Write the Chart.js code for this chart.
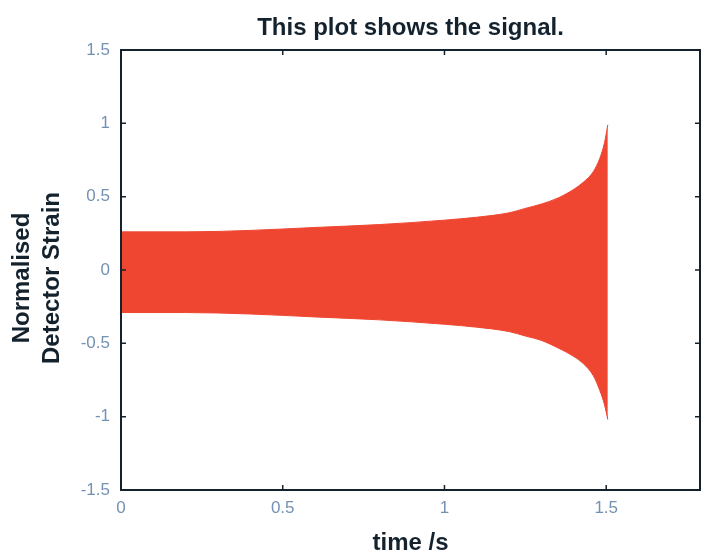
<!DOCTYPE html>
<html>
<head>
<meta charset="utf-8">
<script src="https://cdn.jsdelivr.net/npm/chart.js"></script>
<style>
  html, body { margin: 0; padding: 0; background: #fff; }
  #wrap { width: 701px; height: 554px; }
</style>
</head>
<body>
<div id="wrap"><canvas id="signalChart" width="701" height="554"></canvas></div>
<script>
// =============== data ===============
const timeS     = [0, 0.2, 0.4, 0.6, 0.8, 1.0, 1.1, 1.2, 1.25, 1.3, 1.35, 1.4, 1.43, 1.46, 1.48, 1.495, 1.505];
const upperEnv  = [0.26, 0.26, 0.27, 0.29, 0.31, 0.34, 0.36, 0.39, 0.42, 0.45, 0.49, 0.55, 0.60, 0.67, 0.76, 0.87, 0.99];
const lowerEnv  = [-0.29, -0.29, -0.30, -0.32, -0.34, -0.37, -0.39, -0.42, -0.45, -0.48, -0.53, -0.59, -0.64, -0.72, -0.82, -0.92, -1.02];
const xTicks    = [0, 0.5, 1, 1.5];
const yTicks    = [-1.5, -1, -0.5, 0, 0.5, 1, 1.5];

const RED = "#ef4631";
const LABEL = "#7391b2";
const INK = "#14222e";

// 边框 + 内向刻度 + 标题
const framePlugin = {
  id: "frame",
  afterDraw(chart) {
    const { ctx, chartArea: a, scales } = chart;
    ctx.save();
    ctx.strokeStyle = INK;
    ctx.lineWidth = 2;
    ctx.strokeRect(a.left, a.top, a.right - a.left, a.bottom - a.top);
    ctx.lineWidth = 1.5;
    ctx.beginPath();
    xTicks.forEach(v => {
      const x = scales.x.getPixelForValue(v);
      ctx.moveTo(x, a.bottom); ctx.lineTo(x, a.bottom - 5);
      ctx.moveTo(x, a.top);    ctx.lineTo(x, a.top + 5);
    });
    yTicks.forEach(v => {
      const y = scales.y.getPixelForValue(v);
      ctx.moveTo(a.left, y);  ctx.lineTo(a.left + 5, y);
      ctx.moveTo(a.right, y); ctx.lineTo(a.right - 5, y);
    });
    ctx.stroke();

    const cx = (a.left + a.right) / 2;
    ctx.fillStyle = INK;
    ctx.textAlign = "center";
    ctx.textBaseline = "alphabetic";
    ctx.font = "bold 24px 'Liberation Sans', Arial, sans-serif";
    ctx.fillText("This plot shows the signal.", cx, 35);
    ctx.fillText("time /s", cx, 550);

    ctx.translate(0, (a.top + a.bottom) / 2 + 8);
    ctx.rotate(-Math.PI / 2);
    ctx.fillText("Normalised", 0, 29);
    ctx.fillText("Detector Strain", 0, 59);
    ctx.restore();
  }
};

const ctx = document.getElementById("signalChart").getContext("2d");
const signalChart = new Chart(ctx, {
  type: "line",
  data: {
    datasets: [
      { label: "upper", data: timeS.map((t, i) => ({ x: t, y: upperEnv[i] })), borderColor: RED, backgroundColor: RED, borderWidth: 1, pointRadius: 0, fill: "+1", cubicInterpolationMode: "monotone" },
      { label: "lower", data: timeS.map((t, i) => ({ x: t, y: lowerEnv[i] })), borderColor: RED, backgroundColor: RED, borderWidth: 1, pointRadius: 0, fill: false, cubicInterpolationMode: "monotone" },
    ],
  },
  options: {
    responsive: false,
    animation: false,
    layout: { padding: { top: 50, right: 1, left: 0, bottom: 0 } },
    plugins: { legend: { display: false }, tooltip: { enabled: false }, title: { display: false } },
    scales: {
      x: {
        type: "linear", min: 0, max: 1.79,
        afterBuildTicks: s => { s.ticks = xTicks.map(v => ({ value: v })); },
        afterFit: s => { s.height = 64; },
        grid: { display: false, drawTicks: false }, border: { display: false },
        ticks: { color: LABEL, font: { size: 17, family: "'Liberation Sans', Arial, sans-serif" }, padding: 8, maxRotation: 0, callback: v => String(v) },
      },
      y: {
        type: "linear", min: -1.5, max: 1.5,
        afterBuildTicks: s => { s.ticks = yTicks.map(v => ({ value: v })); },
        afterFit: s => { s.width = 121; },
        grid: { display: false, drawTicks: false }, border: { display: false },
        ticks: { color: LABEL, font: { size: 17, family: "'Liberation Sans', Arial, sans-serif" }, padding: 11, callback: v => String(v) },
      },
    },
  },
  plugins: [framePlugin],
});
</script>
</body>
</html>
